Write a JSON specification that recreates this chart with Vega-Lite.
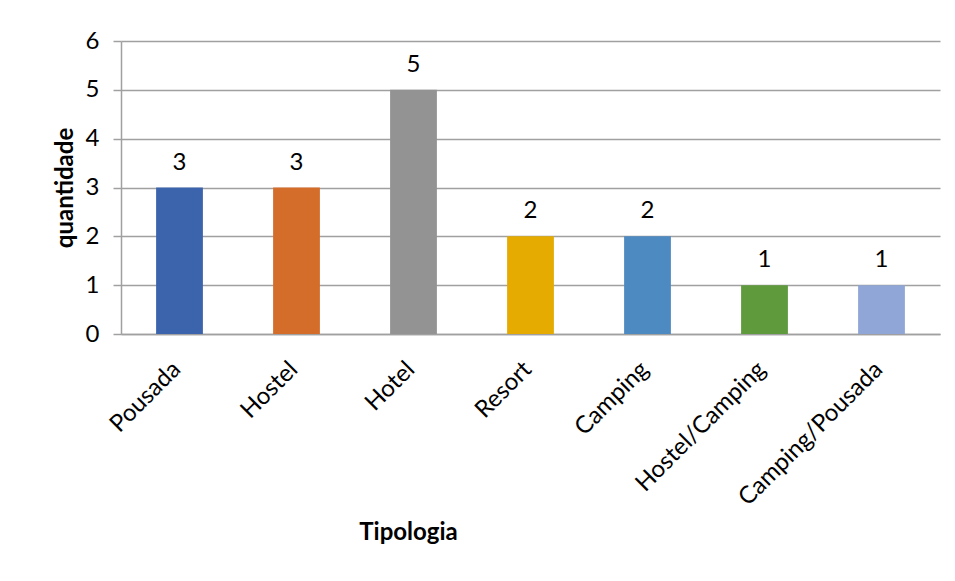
{
  "$schema": "https://vega.github.io/schema/vega-lite/v6.json",
  "width": 819,
  "height": 293,
  "autosize": {"type": "none"},
  "padding": {"left": 121, "top": 41, "right": 15, "bottom": 247},
  "background": "white",
  "config": {
    "font": "Lato",
    "view": {"stroke": null},
    "axis": {"labelFont": "Lato", "titleFont": "Lato"}
  },
  "data": {
    "values": [
      {"tipologia": "Pousada", "quantidade": 3},
      {"tipologia": "Hostel", "quantidade": 3},
      {"tipologia": "Hotel", "quantidade": 5},
      {"tipologia": "Resort", "quantidade": 2},
      {"tipologia": "Camping", "quantidade": 2},
      {"tipologia": "Hostel/Camping", "quantidade": 1},
      {"tipologia": "Camping/Pousada", "quantidade": 1}
    ]
  },
  "encoding": {
    "x": {
      "field": "tipologia",
      "type": "nominal",
      "sort": null,
      "scale": {"paddingInner": 0.6, "paddingOuter": 0.3},
      "axis": {
        "title": "Tipologia",
        "titleFontSize": 24,
        "titleFontWeight": "bold",
        "titleColor": "black",
        "titleX": 287,
        "titleY": 186,
        "labelAngle": -45,
        "labelFontSize": 24,
        "labelColor": "black",
        "labelPadding": 23,
        "labelOffset": -11,
        "labelLimit": 400,
        "ticks": false,
        "domainColor": "#a0a0a0",
        "domainWidth": 1.5
      }
    },
    "y": {
      "field": "quantidade",
      "type": "quantitative",
      "scale": {"domain": [0, 6]},
      "axis": {
        "title": "quantidade",
        "titleFontSize": 24,
        "titleFontWeight": "bold",
        "titleColor": "black",
        "titlePadding": 8,
        "values": [0, 1, 2, 3, 4, 5, 6],
        "labelFontSize": 24,
        "labelColor": "black",
        "labelPadding": 14,
        "tickSize": 8,
        "tickColor": "#a0a0a0",
        "tickWidth": 1.5,
        "gridColor": "#a0a0a0",
        "gridWidth": 1.5,
        "domainColor": "#a0a0a0",
        "domainWidth": 1.5
      }
    }
  },
  "layer": [
    {
      "mark": {"type": "bar"},
      "encoding": {
        "color": {
          "field": "tipologia",
          "type": "nominal",
          "sort": null,
          "legend": null,
          "scale": {
            "domain": ["Pousada", "Hostel", "Hotel", "Resort", "Camping", "Hostel/Camping", "Camping/Pousada"],
            "range": ["#3c64ac", "#d56d2a", "#939393", "#e5ab00", "#4e8ac2", "#5f9a3c", "#8fa6d7"]
          }
        }
      }
    },
    {
      "mark": {"type": "text", "fontSize": 24, "color": "black", "baseline": "alphabetic", "dy": -18},
      "encoding": {"text": {"field": "quantidade", "type": "quantitative"}}
    }
  ]
}
